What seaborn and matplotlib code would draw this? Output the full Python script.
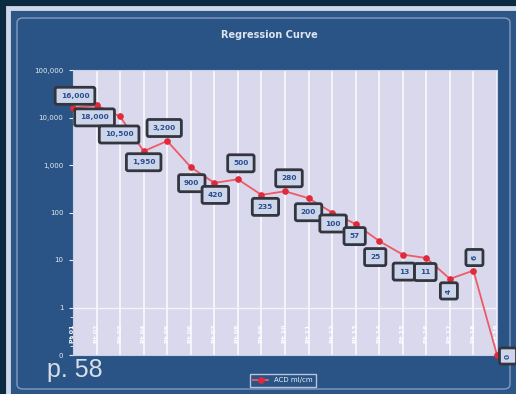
import matplotlib
matplotlib.use('Agg')
import numpy as np
import pandas as pd
import matplotlib.pyplot as plt
import seaborn as sns
from matplotlib.patches import Rectangle, FancyBboxPatch
from matplotlib.ticker import FixedLocator

# values (log-style axis with 0 at the bottom)
points = list(range(1, 20))
acd_values = [16000, 18000, 10500, 1950, 3200, 900, 420, 500, 235, 280,
              200, 100, 57, 25, 13, 11, 4, 6, 0]
point_labels = ['Pt 01', 'Pt 02', 'Pt 03', 'Pt 04', 'Pt 05', 'Pt 06', 'Pt 07',
                'Pt 08', 'Pt 09', 'Pt 10', 'Pt 11', 'Pt 12', 'Pt 13', 'Pt 14',
                'Pt 15', 'Pt 16', 'Pt 17', 'Pt 18', 'Pt 19']
y_ticks = [0, 1, 10, 100, 1000, 10000, 100000]
y_tick_labels = ['0', '1', '10', '100', '1,000', '10,000', '100,000']
series_name = 'ACD ml/cm'

# label placement (pixels from the point) and rotation
label_offsets = [(2, 12), (-2, -12), (-1, -18), (0, -11), (-3, 13), (1, -16),
                 (1, -12), (3, 16), (4, -12), (4, 13), (0, -14), (1, -11),
                 (-1, -12), (-4, -16), (1, -17), (-1, -14), (-1, -12),
                 (1, 13), (11, -1)]
label_rot = [0] * 16 + [90, 90, 90]

df = pd.DataFrame({'point': points, 'value': acd_values})

W, H = 516, 394
fig = plt.figure(figsize=(W / 100, H / 100), dpi=100)
fig.patch.set_facecolor('#0c2a40')

# outer light frame + blue panel
fig.add_artist(Rectangle((8 / W, -4 / H), 512 / W, (394 - 8 + 4) / H,
                         transform=fig.transFigure, facecolor='#2d5687',
                         edgecolor='#cdd8e8', lw=3.5, zorder=0))
fig.add_artist(FancyBboxPatch((17 / W, 1 - 389 / H), 493 / W, (389 - 18) / H,
                              boxstyle='round,pad=0,rounding_size=0.012',
                              transform=fig.transFigure, facecolor='#2a5485',
                              edgecolor='#7f9cc4', lw=1, zorder=0))

ax = fig.add_axes([73 / W, 1 - 355 / H, (497 - 73) / W, (355 - 70) / H])
ax.set_facecolor('#d9d8ec')

sns.lineplot(data=df, x='point', y='value', ax=ax, color='#ee5a66', lw=1.3,
             marker='o', markersize=4, markerfacecolor='#e02a3a',
             markeredgecolor='#e02a3a', label=series_name, zorder=4, clip_on=False)

ax.set_yscale('symlog', linthresh=1, linscale=0.9)
ax.set_ylim(0, 100000)
ax.set_xlim(points[0], points[-1])
ax.set_yticks(y_ticks)
ax.set_yticklabels(y_tick_labels)
ax.yaxis.set_minor_locator(FixedLocator([0.2, 0.4, 0.6, 0.8]))
ax.set_xticks(points)
ax.set_xticklabels([])
ax.tick_params(axis='x', length=0)
ax.tick_params(axis='y', which='major', colors='#e6ebf4', labelsize=5, length=3, pad=4)
ax.tick_params(axis='y', which='minor', colors='#e6ebf4', length=2)
ax.set_xlabel('')
ax.set_ylabel('')
ax.grid(axis='x', color='#f4f4fb', lw=1.4)
ax.grid(axis='y', visible=False)
ax.axhline(1, color='#f4f4fb', lw=1, zorder=1)
for s in ax.spines.values():
    s.set_color('#c9cfe4')
    s.set_linewidth(0.8)

# rotated point names inside the band below 1
for p, name in zip(points, point_labels):
    ax.text(p, 0.45, name, rotation=90, ha='center', va='center',
            fontsize=4.5, fontweight='bold', color='white', zorder=2)

# value labels in boxes
for p, v, off, rot in zip(points, acd_values, label_offsets, label_rot):
    txt = f'{v:,.0f}'
    ax.annotate(txt, (p, v), xytext=off, textcoords='offset pixels',
                ha='center', va='center', rotation=rot, fontsize=5.3,
                fontweight='bold', color='#2a4d8c', zorder=6, annotation_clip=False,
                bbox=dict(boxstyle='round,pad=0.75,rounding_size=0.25',
                          fc='#cdd5ea', ec='#33363f', lw=2))

leg = ax.legend(loc='center', bbox_to_anchor=(0.495, -0.088), fontsize=5,
                frameon=True, fancybox=False, framealpha=1, handlelength=2.2,
                borderpad=0.5, labelcolor='#eef2f8')
leg.get_frame().set_facecolor('#2a5485')
leg.get_frame().set_edgecolor('#b5c4dc')
leg.get_frame().set_linewidth(1)

fig.text(0.523, 1 - 35 / H, 'Regression Curve', ha='center', va='center',
         fontsize=7, fontweight='bold', color='#dce4f0')
fig.text(47 / W, 1 - 370 / H, 'p. 58', ha='left', va='center',
         fontsize=18, color='#d8dde8', family='Liberation Sans')

fig.savefig('out.png', dpi=100, facecolor=fig.get_facecolor())
